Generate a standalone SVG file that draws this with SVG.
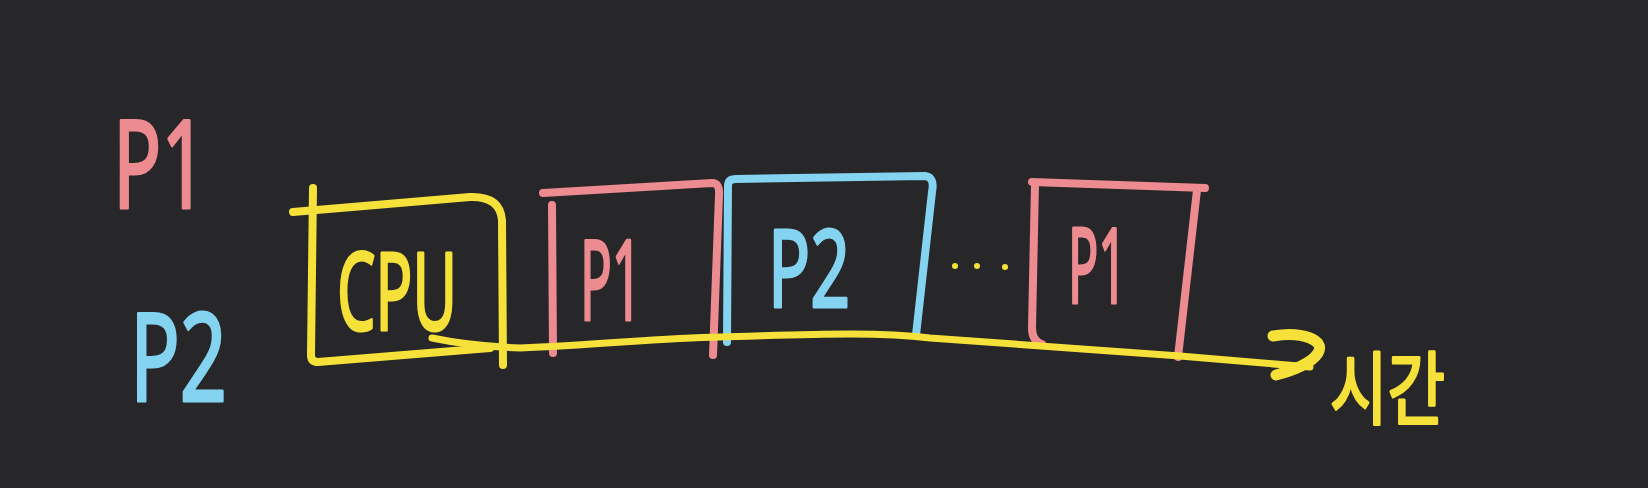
<svg xmlns="http://www.w3.org/2000/svg" width="1648" height="488" viewBox="0 0 1648 488">
<style>
.s{fill:none;stroke-linecap:round;stroke-linejoin:round}
.y{stroke:#f6e13a}
.p{stroke:#ec8b90}
.b{stroke:#84d3f0}
.t{font-family:"Noto Sans","Noto Sans CJK KR",sans-serif;stroke-width:3;stroke-linejoin:round}
.ty{fill:#f6e13a;stroke:#f6e13a}
.tp{fill:#ec8b90;stroke:#ec8b90}
.tb{fill:#84d3f0;stroke:#84d3f0}
</style>
<rect width="1648" height="488" fill="#272628"/>
<g id="label-p1"><text class="t tp" x="113" y="208" font-size="122" textLength="94" lengthAdjust="spacingAndGlyphs">P1</text></g>
<g id="label-p2"><text class="t tb" x="130" y="401" font-size="122" textLength="97" lengthAdjust="spacingAndGlyphs">P2</text></g>
<g id="cpu">
<path class="s y" stroke-width="8" d="M293,212 L470,197 Q500,196 502,220 L503,365"/>
<path class="s y" stroke-width="8" d="M313,188 L311,355 Q311,362 318,362 L490,348"/>
<text class="t ty" x="337" y="330" font-size="108" textLength="120" lengthAdjust="spacingAndGlyphs">CPU</text>
</g>
<g id="box-p1-a">
<path class="s p" stroke-width="8" d="M543,193 L712,183 Q720,183 719,195 L713,355"/>
<path class="s p" stroke-width="8" d="M552,205 L553,353"/>
<text class="t tp" x="580" y="320" font-size="112" textLength="62" lengthAdjust="spacingAndGlyphs">P1</text>
</g>
<g id="box-p2">
<path class="s b" stroke-width="8" d="M727,342 L728,186 Q728,179 736,179 L925,176 Q935,177 932,192 L916,335"/>
<text class="t tb" x="768" y="307" font-size="108" textLength="82" lengthAdjust="spacingAndGlyphs">P2</text>
</g>
<g id="dots">
<circle cx="955" cy="266" r="3" fill="#f6e13a"/>
<circle cx="977" cy="266" r="3" fill="#f6e13a"/>
<circle cx="1005" cy="267" r="3" fill="#f6e13a"/>
</g>
<g id="box-p1-b">
<path class="s p" stroke-width="8" d="M1032,182 L1205,188"/>
<path class="s p" stroke-width="8" d="M1035,184 L1032,328 Q1032,341 1042,344"/>
<path class="s p" stroke-width="8" d="M1197,190 L1178,357"/>
<text class="t tp" x="1068" y="303" font-size="104" textLength="59" lengthAdjust="spacingAndGlyphs">P1</text>
</g>
<g id="label-time"><text class="t ty" x="1330" y="418" font-size="80" stroke-width="6" textLength="115" lengthAdjust="spacingAndGlyphs">시간</text></g>
<g id="connectors">
<path class="s y" stroke-width="7" d="M432,338 Q470,346 520,348 C600,345 660,338 720,337 C800,335 870,331 930,338 L1180,356 L1310,367"/>
<path class="s y" stroke-width="11" d="M1273,336 C1302,331 1326,340 1318,353 C1312,363 1292,371 1276,375"/>
</g>
</svg>
